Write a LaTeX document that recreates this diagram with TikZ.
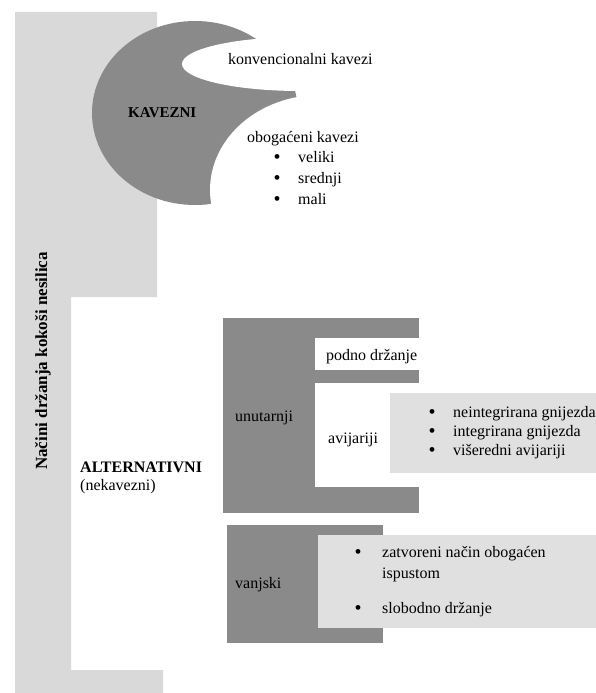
\documentclass[tikz,border=0pt]{standalone}
\usepackage{fontspec}
\setmainfont{Liberation Serif}
\definecolor{darkg}{gray}{0.54}
\definecolor{bandg}{gray}{0.85}
\definecolor{boxg}{gray}{0.88}
\begin{document}
\begin{tikzpicture}[x=1pt,y=-1pt,
  txt/.style={inner sep=0pt, anchor=base west, font=\fontsize{16}{19}\selectfont},
  boldtxt/.style={inner sep=0pt, anchor=base west, font=\fontsize{16}{19}\selectfont\bfseries},
  bul/.style={inner sep=0pt, anchor=base, font=\fontsize{20}{22}\selectfont}]
\useasboundingbox (0,0) rectangle (595,693);
\fill[white] (0,0) rectangle (595,693);
% left band
\fill[bandg] (15,12) -- (157,12) -- (157,297) -- (71,297) -- (71,670) -- (163,670) -- (163,693) -- (15,693) -- cycle;
% KAVEZNI crescent
\fill[darkg] (195,113) ellipse [x radius=103pt, y radius=92pt];
\fill[white] (300,64) ellipse [x radius=118pt, y radius=27pt];
\fill[white] (320,190) ellipse [x radius=110pt, y radius=95pt];
% unutarnji E
\fill[darkg] (223,318) rectangle (419,513);
\fill[white] (315,338) rectangle (419,370);
\fill[white] (315,383) rectangle (419,487);
\fill[boxg] (390,393) rectangle (600,473);
% vanjski
\fill[darkg] (227,525) rectangle (383,643);
\fill[boxg] (318,535) rectangle (600,628);
% title
\node[inner sep=0pt, anchor=base west, rotate=90, font=\fontsize{17}{20}\selectfont\bfseries] (title) at (47,470) {Načini držanja kokoši nesilica};
% top texts
\node[inner sep=0pt, anchor=base west, font=\fontsize{15}{18}\selectfont\bfseries] (kav) at (128,117) {KAVEZNI};
\node[txt] (konv) at (228,65) {konvencionalni kavezi};
\node[txt] (obog) at (247,142) {obogaćeni kavezi};
\node[bul] (b1) at (277,163) {\textbullet};
\node[txt] (vel) at (298,162) {veliki};
\node[bul] (b2) at (277,184) {\textbullet};
\node[txt] (sre) at (298,183) {srednji};
\node[bul] (b3) at (277,205) {\textbullet};
\node[txt] (mal) at (298,204) {mali};
% alternativni
\node[boldtxt] (alt) at (80,472) {ALTERNATIVNI};
\node[txt] (nek) at (80,490) {(nekavezni)};
\node[txt] (unu) at (235,421) {unutarnji};
\node[txt] (pod) at (326,360) {podno držanje};
\node[txt] (avi) at (328,443) {avijariji};
\node[bul] (c1) at (432,418) {\textbullet};
\node[txt] (nei) at (453,417) {neintegrirana gnijezda};
\node[bul] (c2) at (432,437) {\textbullet};
\node[txt] (int) at (453,436) {integrirana gnijezda};
\node[bul] (c3) at (432,456) {\textbullet};
\node[txt] (vis) at (453,455) {višeredni avijariji};
\node[txt] (van) at (235,588) {vanjski};
\node[bul] (d1) at (358,558) {\textbullet};
\node[txt] (zat) at (382,557) {zatvoreni način obogaćen};
\node[txt] (isp) at (382,578) {ispustom};
\node[bul] (d2) at (358,614) {\textbullet};
\node[txt] (slo) at (382,613) {slobodno držanje};
\end{tikzpicture}
\end{document}
